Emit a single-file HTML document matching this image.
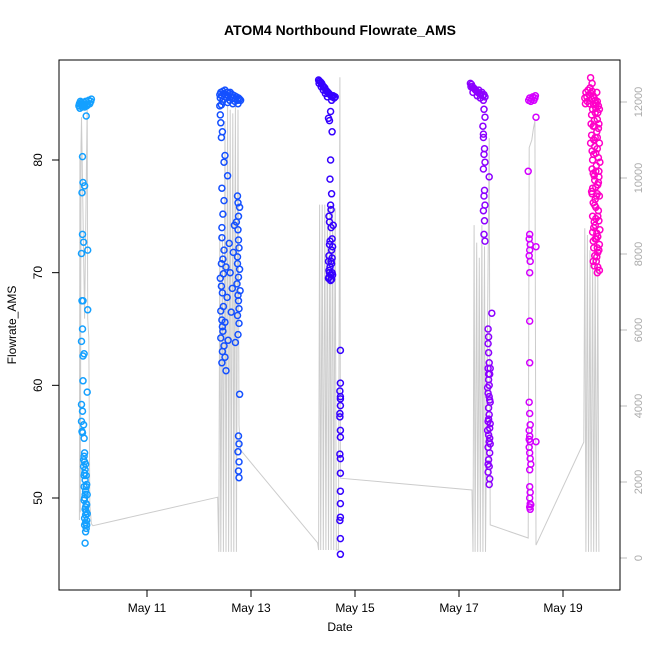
<!DOCTYPE html>
<html><head><meta charset="utf-8"><style>
html,body{margin:0;padding:0;background:#fff}
svg text{font-family:"Liberation Sans",sans-serif}
</style></head><body>
<svg id="chart" width="650" height="650" xmlns="http://www.w3.org/2000/svg">
<text x="340" y="35" font-size="14" font-weight="bold" text-anchor="middle">ATOM4 Northbound Flowrate_AMS</text>
<text x="340" y="631" font-size="12" text-anchor="middle">Date</text>
<text x="16" y="325" font-size="12" text-anchor="middle" transform="rotate(-90 16 325)">Flowrate_AMS</text>
<g id="gray"></g>
<g id="pts"></g>
<g id="axes"></g>
<rect x="59" y="60" width="561" height="530" fill="none" stroke="#000" stroke-width="1"/>
</svg>
<script>
const xTicks = [11, 13, 15, 17, 19];
const xTickLabels = ["May 11", "May 13", "May 15", "May 17", "May 19"];
const yTicks = [50, 60, 70, 80];
const y2Ticks = [0, 2000, 4000, 6000, 8000, 10000, 12000];
const clusterColors = ["#14A0FF", "#1450FF", "#3400FF", "#8C00FF", "#D400FF", "#FF00C8"];

const grayPts = [[9.70,1000],[9.71,10500],[9.72,1200],[9.73,10800],[9.74,11600],[9.80,6300],[9.85,11900],[9.86,6300],[9.88,5800],[9.90,1400],[9.93,900],[9.96,850],
[12.36,1600],[12.38,160],[12.40,8470],[12.42,160],[12.45,8470],[12.47,160],[12.50,11500],[12.52,160],[12.55,11900],[12.57,160],[12.60,11800],[12.62,160],[12.65,11700],[12.67,160],[12.70,11900],[12.72,160],[12.75,11800],[12.77,3500],[12.80,2840],
[14.28,400],[14.30,210],[14.32,9300],[14.34,210],[14.37,9300],[14.39,210],[14.42,9300],[14.44,210],[14.47,9200],[14.49,210],[14.52,9300],[14.54,210],[14.57,9300],[14.59,210],[14.62,9200],[14.64,210],[14.68,210],[14.71,12650],[14.72,2100],
[17.25,1790],[17.27,160],[17.29,8760],[17.31,160],[17.34,8300],[17.36,160],[17.39,7900],[17.41,160],[17.44,8760],[17.46,160],[17.49,8200],[17.51,160],[17.58,11050],[17.60,870],
[18.33,525],[18.35,10800],[18.40,11000],[18.43,11300],[18.46,11500],[18.48,340],
[19.40,3050],[19.42,8680],[19.44,160],[19.47,8500],[19.49,160],[19.52,8100],[19.54,160],[19.57,8000],[19.59,160],[19.62,7800],[19.64,160],[19.67,7600],[19.69,160]];

const c1 = [[9.69,84.8],[9.70,85.0],[9.71,84.6],[9.72,85.2],[9.73,84.9],[9.74,85.1],[9.75,84.7],[9.76,85.0],[9.77,84.8],[9.78,84.9],[9.79,85.1],[9.80,84.7],[9.81,84.9],[9.82,85.2],[9.84,84.8],[9.86,84.9],[9.88,85.3],[9.90,85.0],[9.92,85.2],[9.93,85.4],[9.83,83.9],
[9.76,80.3],[9.77,78],[9.80,77.7],[9.75,77.1],[9.76,73.4],[9.78,72.7],[9.74,71.7],[9.86,72.0],[9.75,67.5],[9.77,67.5],[9.86,66.7],[9.76,65],[9.74,63.9],[9.77,62.6],[9.79,62.8],[9.77,60.4],[9.85,59.4],[9.74,58.3],[9.76,57.7],[9.74,56.8],[9.78,56.5],[9.76,55.8],[9.79,55.3],[9.75,55.9],
[9.79,53.7],[9.80,53.2],[9.78,52.8],[9.80,52.2],[9.81,51.6],[9.79,51.0],[9.82,50.6],[9.80,50.0],[9.83,49.5],[9.81,49.0],[9.82,48.5],[9.84,48.0],[9.80,47.6],[9.83,47.3],[9.81,46.0],[9.82,53.0],[9.84,51.2],[9.79,49.8],[9.83,48.8],[9.82,47.8],[9.85,50.3],[9.81,52.5],[9.80,54.0],[9.83,52.0],[9.82,49.2],[9.84,47.6],
[9.79,52.0],[9.81,50.3],[9.83,51.0],[9.80,48.2],[9.82,47.0],[9.84,49.4],[9.78,53.4],[9.85,48.6]];

const c2 = [[12.40,85.8],[12.42,86.0],[12.44,85.7],[12.46,86.1],[12.48,85.9],[12.50,86.2],[12.52,85.8],[12.54,86.0],[12.56,85.7],[12.58,85.9],[12.60,86.0],[12.62,85.6],[12.64,85.8],[12.66,85.5],[12.68,85.7],[12.70,85.4],[12.72,85.6],[12.74,85.3],[12.76,85.5],[12.78,85.4],[12.80,85.3],[12.45,85.2],[12.55,85.1],[12.65,85.0],[12.43,84.9],[12.41,85.5],[12.47,85.4],[12.53,85.5],[12.59,85.3],[12.69,85.2],[12.75,85.0],
[12.40,84.8],[12.41,84.0],[12.42,83.3],[12.45,82.5],[12.43,82.0],[12.50,80.4],[12.48,79.8],[12.55,78.6],[12.44,77.5],[12.75,76.2],[12.78,75.8],[12.46,75.2],[12.72,74.5],[12.44,73.1],[12.76,72.9],[12.48,72.0],[12.74,71.4],[12.43,70.8],[12.78,70.3],[12.47,69.9],[12.73,69.0],[12.45,68.2],[12.76,67.5],[12.42,66.6],[12.74,66.2],[12.44,65.8],[12.77,65.5],[12.46,64.8],[12.42,64.2],[12.48,63.5],[12.45,63.0],[12.50,62.5],[12.44,62.0],[12.52,61.3],[12.78,59.2],[12.76,55.5],[12.77,54.8],[12.75,54.1],[12.77,53.2],[12.76,52.4],[12.77,51.8],
[12.74,76.8],[12.76,75.0],[12.75,73.8],[12.77,72.2],[12.74,70.8],[12.76,69.6],[12.75,68.0],[12.77,66.8],[12.75,64.5],[12.44,74.0],[12.46,71.2],[12.43,68.8],[12.47,67.0],[12.45,65.2],[12.60,70.0],[12.58,72.6],[12.62,66.5],[12.56,64.0],
[12.52,70.5],[12.54,67.8],[12.50,65.6],[12.66,71.8],[12.64,68.6],[12.68,74.2],[12.48,76.4],[12.41,69.5],[12.79,68.4],[12.70,63.8]];

const c3 = [[14.30,87.1],[14.32,87.0],[14.34,86.9],[14.36,86.8],[14.38,86.6],[14.40,86.5],[14.42,86.4],[14.44,86.2],[14.46,86.1],[14.48,86.0],[14.50,85.9],[14.52,85.8],[14.54,85.7],[14.56,85.6],[14.58,85.7],[14.60,85.5],[14.62,85.6],[14.31,86.8],[14.35,86.5],[14.39,86.2],[14.43,85.9],[14.47,85.6],[14.55,85.3],
[14.53,84.3],[14.51,83.5],[14.49,83.7],[14.56,82.5],[14.53,80.0],[14.52,78.3],[14.55,77.0],[14.53,76.0],[14.50,75.0],[14.54,74.0],[14.56,73.0],[14.51,72.5],[14.55,72.0],[14.50,71.5],[14.54,71.0],[14.52,70.5],[14.56,70.0],[14.50,69.6],[14.53,69.3],[14.57,69.8],[14.55,70.8],[14.52,72.8],[14.51,74.5],[14.54,75.6],[14.56,71.3],[14.50,70.2],[14.58,74.2],[14.49,69.5],
[14.53,69.8],[14.55,69.4],[14.51,70.0],[14.57,72.3],[14.49,71.0],
[14.72,63.1],[14.72,60.2],[14.71,59.5],[14.72,58.8],[14.72,58.2],[14.71,57.5],[14.72,56.0],[14.72,55.4],[14.71,53.9],[14.72,53.5],[14.72,52.2],[14.72,50.6],[14.72,49.5],[14.72,48.3],[14.71,48.0],[14.72,46.4],[14.72,45.0],[14.71,57.2],[14.72,59.0]];

const c4 = [[17.22,86.8],[17.24,86.7],[17.26,86.5],[17.28,86.4],[17.30,86.3],[17.32,86.2],[17.34,86.1],[17.36,86.0],[17.38,86.2],[17.40,85.9],[17.42,85.8],[17.44,86.0],[17.46,85.7],[17.48,85.8],[17.50,85.6],[17.23,86.5],[17.27,86.0],[17.35,85.7],[17.47,85.3],[17.41,85.5],
[17.48,84.5],[17.50,83.8],[17.46,83.0],[17.47,82.3],[17.49,81.0],[17.48,80.5],[17.50,79.8],[17.47,79.2],[17.58,78.5],[17.49,77.3],[17.48,76.8],[17.50,76.0],[17.47,75.5],[17.49,74.6],[17.48,73.4],[17.50,72.8],[17.47,82.0],
[17.63,66.4],[17.56,65.0],[17.57,64.3],[17.56,63.7],[17.57,62.9],[17.58,62.0],[17.56,61.5],[17.59,61.0],[17.57,60.5],[17.58,60.0],[17.56,59.3],[17.59,58.7],[17.57,58.0],[17.58,57.4],[17.56,56.8],[17.59,56.2],[17.57,55.6],[17.58,55.0],[17.56,54.5],[17.59,54.0],[17.57,53.4],[17.58,52.8],[17.56,52.3],[17.59,51.7],[17.58,51.2],[17.60,58.5],[17.55,56.0],[17.60,54.8],[17.60,61.5],[17.55,59.8],
[17.57,57.0],[17.59,55.3],[17.56,53.0],[17.58,59.0],[17.60,56.6],[17.57,61.0]];

const c5 = [[18.34,85.3],[18.36,85.5],[18.38,85.2],[18.40,85.4],[18.42,85.6],[18.44,85.3],[18.46,85.5],[18.47,85.7],[18.48,83.8],[18.33,79.0],[18.36,73.4],[18.35,73.0],[18.37,72.5],[18.36,72.0],[18.35,71.5],[18.37,71.0],[18.36,70.0],[18.48,72.3],[18.36,65.7],[18.36,62.0],[18.35,58.5],[18.36,57.5],[18.37,56.5],[18.35,56.0],[18.36,55.5],[18.37,55.0],[18.35,54.5],[18.36,54.0],[18.37,53.5],[18.38,53.0],[18.36,52.5],[18.36,51.0],[18.37,50.5],[18.36,50.0],[18.37,49.5],[18.36,49.2],[18.48,55.0],[18.37,49.0],[18.38,49.4],[18.35,55.2]];

const c6 = [[19.42,85.5],[19.44,86.0],[19.46,85.6],[19.48,86.2],[19.50,85.8],[19.52,86.4],[19.54,85.9],[19.56,86.1],[19.58,85.7],[19.60,85.5],[19.62,85.3],[19.64,85.0],[19.66,85.2],[19.68,84.8],[19.70,84.5],[19.53,87.3],[19.56,86.8],[19.43,85.0],[19.47,85.2],[19.51,85.0],[19.55,85.4],[19.59,84.9],[19.63,84.6],[19.67,84.2],
[19.55,84.0],[19.58,83.0],[19.62,82.0],[19.66,81.0],[19.57,80.0],[19.63,79.0],[19.68,78.0],[19.56,77.0],[19.61,76.0],[19.67,75.0],[19.59,74.0],[19.64,73.0],[19.69,72.0],[19.58,71.0],[19.66,70.0],[19.60,83.5],[19.65,82.5],[19.70,81.5],[19.59,80.5],[19.64,79.5],[19.69,78.5],[19.57,77.5],[19.62,76.5],[19.68,75.5],[19.60,74.5],[19.65,73.5],[19.70,72.5],[19.61,71.5],[19.67,70.5],[19.56,80.8],[19.69,83.2],[19.70,76.8],[19.63,74.8],[19.58,72.8],[19.66,72.2],[19.71,79.8],[19.54,83.2],[19.55,77.2],[19.53,81.5],[19.62,84.2],[19.65,86.0],[19.71,73.8],[19.60,78.6],[19.67,77.8],[19.64,71.0],
[19.57,84.5],[19.61,83.0],[19.66,82.0],[19.59,81.8],[19.63,80.6],[19.68,80.2],[19.56,79.2],[19.61,78.2],[19.66,77.0],[19.58,76.2],[19.63,75.8],[19.69,74.6],[19.57,73.6],[19.62,73.0],[19.67,71.8],[19.60,70.6],[19.65,71.4],[19.70,70.2],[19.59,72.2],[19.64,76.8],[19.69,79.0],[19.61,81.2],[19.66,83.6],[19.55,82.2],[19.58,78.8],[19.62,74.2],[19.67,73.2],[19.57,75.0],[19.68,82.8],[19.63,77.6]];

const clusters = [c1, c2, c3, c4, c5, c6];

const NS = "http://www.w3.org/2000/svg";
function X(t){ return 147 + (t - 11) * 52; }
function Y(v){ return 498 - (v - 50) * 11.267; }
function Y2(v){ return 558 - v * 0.038; }
function mk(tag, attrs, parent){ const e = document.createElementNS(NS, tag); for (const k in attrs) e.setAttribute(k, attrs[k]); parent.appendChild(e); return e; }

const grayG = document.getElementById('gray');
const gl = mk('polyline', {points: grayPts.map(p => X(p[0]).toFixed(1) + ',' + Y2(p[1]).toFixed(1)).join(' '), fill: 'none', stroke: '#cccccc', 'stroke-width': 1}, grayG);



const ptsG = document.getElementById('pts');
clusters.forEach((c, ci) => {
  c.forEach(p => {
    const e = mk('circle', {cx: X(p[0]).toFixed(1), cy: Y(p[1]).toFixed(1), r: 3, fill: 'none', stroke: clusterColors[ci], 'stroke-width': 1.5}, ptsG);
    
    
  });
});

const ax = document.getElementById('axes');
xTicks.forEach((t, i) => {
  const l = mk('line', {x1: X(t), x2: X(t), y1: 590, y2: 597, stroke: '#000'}, ax);
  
  
  const tx = mk('text', {x: X(t), y: 603, 'font-size': 12, 'text-anchor': 'middle', 'dominant-baseline': 'hanging'}, ax);
  tx.textContent = xTickLabels[i];
  
  
});
yTicks.forEach(v => {
  const l = mk('line', {x1: 52, x2: 59, y1: Y(v), y2: Y(v), stroke: '#000'}, ax);
  
  
  const tx = mk('text', {x: 42, y: Y(v), 'font-size': 12, 'text-anchor': 'middle', transform: 'rotate(-90 42 ' + Y(v) + ')'}, ax);
  tx.textContent = v;
  
  
});
y2Ticks.forEach(v => {
  const l = mk('line', {x1: 620, x2: 627, y1: Y2(v), y2: Y2(v), stroke: '#bbb'}, ax);
  
  
  const tx = mk('text', {x: 642, y: Y2(v), 'font-size': 11, fill: '#aaa', 'text-anchor': 'middle', transform: 'rotate(-90 642 ' + Y2(v) + ')'}, ax);
  tx.textContent = v;
  
  
});
</script>
</body></html>
